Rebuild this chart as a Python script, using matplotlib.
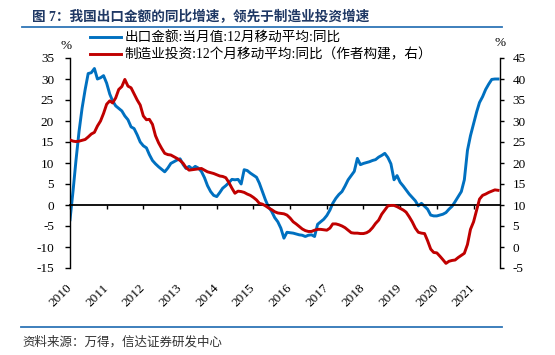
import matplotlib
matplotlib.use("Agg")
import matplotlib.pyplot as plt
import matplotlib.transforms as mtransforms
from matplotlib.lines import Line2D
import pandas as pd

plt.rcParams["axes.unicode_minus"] = False

# monthly data, Jan 2010 - Sep 2021
export_yoy = (
    [-3.5, 3.5, 10.5, 17.5, 23.0, 27.5, 31.3, 31.5, 32.5, 30.0, 30.3, 30.8]     # 2010
    + [29.0, 26.4, 24.8, 23.6, 23.0, 22.4, 21.2, 20.3, 18.6, 18.2, 16.7, 15.0]  # 2011
    + [14.1, 13.6, 12.0, 10.6, 9.8, 9.1, 8.5, 7.9, 8.8, 9.9, 10.3, 10.7]        # 2012
    + [11.0, 9.6, 8.7, 9.2, 8.6, 9.2, 8.8, 8.0, 6.5, 4.6, 3.2, 2.3]             # 2013
    + [2.0, 3.0, 4.0, 4.6, 5.3, 6.1, 6.0, 6.1, 5.0, 8.4, 8.2, 7.6]              # 2014
    + [7.1, 6.6, 5.2, 3.2, 1.2, -0.5, -1.5, -3.0, -4.0, -5.5, -7.9, -6.5]       # 2015
    + [-6.6, -6.7, -6.9, -7.1, -7.2, -7.5, -7.2, -7.1, -7.5, -4.6, -4.0, -3.4]  # 2016
    + [-2.5, -1.2, 0.4, 1.6, 2.5, 3.2, 4.5, 6.0, 7.0, 8.0, 11.1, 9.6]           # 2017
    + [9.9, 10.1, 10.3, 10.6, 10.8, 11.4, 11.8, 12.3, 11.3, 9.8, 6.0, 7.0]      # 2018
    + [5.4, 4.5, 3.6, 2.6, 1.8, 1.0, -0.2, 0.4, -0.3, -1.0, -2.4, -2.6]         # 2019
    + [-2.6, -2.4, -2.2, -1.8, -1.0, -0.3, 0.8, 2.0, 3.2, 6.0, 13.0, 16.5]      # 2020
    + [19.3, 22.2, 24.4, 25.8, 27.5, 28.8, 29.9, 30.0, 30.0]                    # 2021
)

# right axis
mfg_invest = (
    [25.5, 25.2, 25.1, 25.2, 25.4, 25.6, 26.2, 26.9, 27.3, 28.8, 30.0, 31.8]
    + [34.0, 34.8, 34.3, 35.5, 37.5, 38.2, 39.9, 38.3, 37.9, 36.5, 35.0, 33.8]
    + [31.2, 30.3, 30.4, 29.2, 26.5, 24.8, 23.5, 22.3, 22.0, 21.9, 21.5, 21.1]
    + [20.6, 19.9, 18.9, 18.3, 18.4, 18.5, 18.6, 18.7, 18.3, 17.9, 17.7, 17.5]
    + [17.2, 16.9, 16.8, 16.5, 15.4, 14.0, 12.8, 13.3, 13.2, 13.0, 12.6, 12.3]
    + [11.8, 11.2, 10.4, 10.2, 9.8, 9.3, 8.9, 8.4, 8.1, 8.0, 7.9, 7.6]
    + [6.9, 6.0, 5.5, 4.9, 4.3, 3.9, 3.7, 3.7, 4.0, 4.2, 4.2, 4.1]
    + [4.0, 4.5, 5.5, 5.5, 5.3, 5.0, 4.6, 4.0, 3.4, 3.3, 3.3, 3.2]
    + [3.2, 3.4, 3.8, 4.6, 5.6, 6.4, 7.8, 8.8, 9.8, 9.9, 9.9, 9.6]
    + [9.2, 8.8, 8.3, 7.2, 6.0, 4.5, 3.5, 3.3, 3.2, 1.5, -0.5, -1.3]
    + [-1.4, -2.2, -3.0, -3.9, -3.4, -3.2, -3.1, -2.5, -2.0, -1.5, 0.6, 4.2]
    + [6.0, 8.8, 11.4, 12.3, 12.6, 13.0, 13.3, 13.6, 13.5]
)

years = list(range(2010, 2022))
dates = pd.date_range("2010-01-01", periods=len(export_yoy), freq="MS")

label_export = "出口金额:当月值:12月移动平均:同比"
label_invest = "制造业投资:12个月移动平均:同比（作者构建，右）"
title = "图 7：我国出口金额的同比增速，领先于制造业投资增速"
source = "资料来源：万得，信达证券研发中心"

fam = ["Liberation Serif", "Noto Sans CJK SC"]
blue = "#0070C0"
red = "#C00000"

fig = plt.figure(figsize=(5.55, 3.55), dpi=100)
ax = fig.add_axes([70 / 555, 87 / 355, 430 / 555, 210 / 355])
ax2 = ax.twinx()

ax.plot(dates, export_yoy, color=blue, lw=2.1)
ax2.plot(dates, mfg_invest, color=red, lw=2.1)

ax.set_ylim(-15, 35)
ax2.set_ylim(-5, 45)
ax.set_yticks(range(-15, 36, 5))
ax2.set_yticks(range(-5, 46, 5))
ax.set_xlim(dates[0], dates[-1] + pd.Timedelta(days=20))

for s in ["top", "right"]:
    ax.spines[s].set_visible(False)
for s in ["top", "bottom", "left"]:
    ax2.spines[s].set_visible(False)
ax.spines["bottom"].set_position(("data", 0))
ax.spines["bottom"].set_linewidth(1.3)
ax.spines["left"].set_linewidth(1.0)
ax2.spines["right"].set_linewidth(1.0)

year_ticks = [pd.Timestamp(f"{y}-01-01") for y in years]
ax.set_xticks(year_ticks)
ax.tick_params(axis="x", direction="out", length=3, width=1, labelbottom=False)
ax.tick_params(axis="y", direction="out", length=3.5, width=1, pad=8)
ax2.tick_params(axis="y", direction="out", length=3, width=1, pad=6)
for lab in ax.get_yticklabels() + ax2.get_yticklabels():
    lab.set_family(fam)
    lab.set_fontsize(9.5)

trans = mtransforms.blended_transform_factory(ax.transData, ax.transAxes)
for y, d in zip(years, year_ticks):
    ax.text(d, -0.085, str(y), transform=trans, rotation=45, rotation_mode="anchor",
            ha="right", va="center", family=fam, fontsize=9.5)

handles = [Line2D([], [], color=blue, lw=2.1), Line2D([], [], color=red, lw=2.1)]
fig.legend(handles, [label_export, label_invest], loc="upper left",
           bbox_to_anchor=(90 / 555, 1 - 32 / 355), frameon=False,
           prop={"family": fam, "size": 9.8}, handlelength=2.25, handletextpad=0.3,
           labelspacing=0.25, borderpad=0, borderaxespad=0)

fig.text(66 / 555, 1 - 46 / 355, "%", ha="center", va="center", family=fam, fontsize=9.5)
fig.text(500 / 555, 1 - 43 / 355, "%", ha="center", va="center", family=fam, fontsize=9.5)

fig.text(32 / 555, 1 - 17 / 355, title, ha="left", va="center", family=fam,
         fontsize=9.8, fontweight="bold", color="#1F3864")
fig.add_artist(Line2D([22 / 555, 502 / 555], [1 - 27 / 355, 1 - 27 / 355], color="#2E75B6", lw=1.3))
fig.add_artist(Line2D([21 / 555, 502 / 555], [1 - 327 / 355, 1 - 327 / 355], color="#2E75B6", lw=1.3))
fig.text(22 / 555, 1 - 342 / 355, source, ha="left", va="center", family=fam,
         fontsize=9.0, color="#333333", style="italic")

fig.savefig("out.png", dpi=100)
